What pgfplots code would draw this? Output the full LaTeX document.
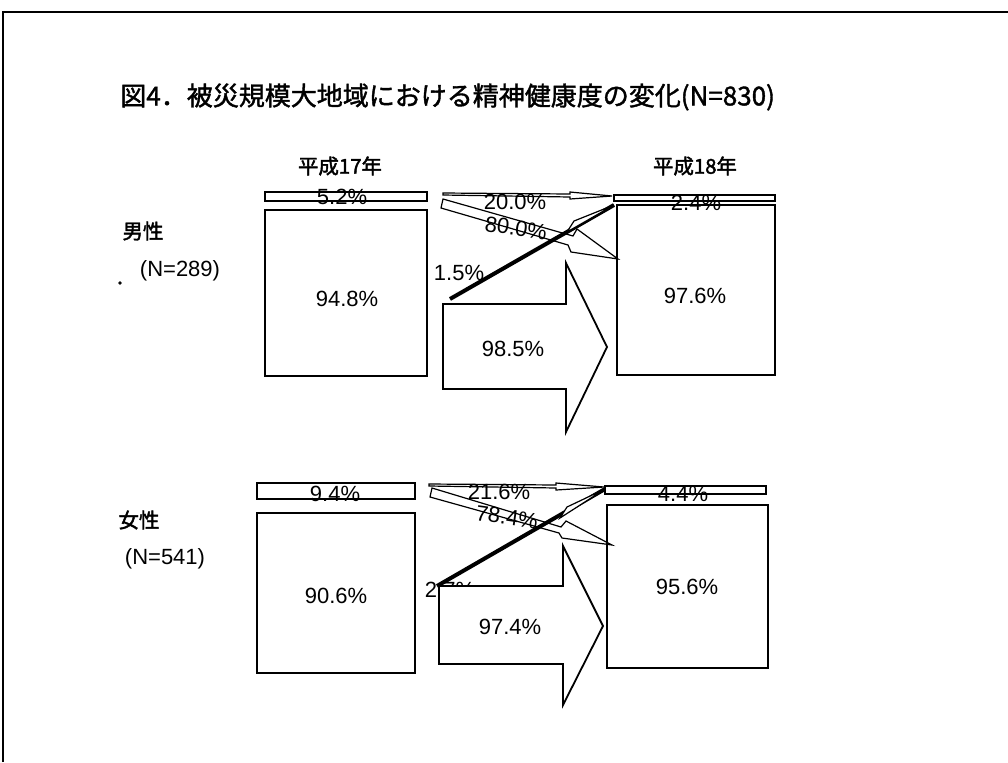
\documentclass[border=0pt]{standalone}
\usepackage{fontspec}
\setmainfont{Liberation Sans}
\newfontfamily\cjk{Noto Sans CJK JP}
\newfontfamily\cjkm[FakeBold=2]{Noto Sans CJK JP}
\newfontfamily\cjkt[FakeBold=1.5]{Noto Sans CJK JP}
\usepackage{pgfplots}
\pgfplotsset{compat=1.18}
\newcommand\pct{\fontsize{11}{13}\selectfont}
\begin{document}
\begin{tikzpicture}
\useasboundingbox (0,0) rectangle (504pt,381pt);
\begin{axis}[scale only axis, width=504pt, height=381pt,
  xmin=0, xmax=1008, ymin=0, ymax=762, y dir=reverse,
  hide axis, clip=false,
  box/.style={draw=black, line width=0.9pt, fill=white},
  thin/.style={draw=black, line width=0.6pt, fill=white}]
% frame
\addplot[black, line width=0.9pt] coordinates {(3,762) (3,12) (1008,12)};
% title
\node[font=\cjkt\fontsize{13}{15}\selectfont, anchor=west, inner sep=0pt] at (axis cs:120,97) {図4．被災規模大地域における精神健康度の変化(N=830)};
\node[font=\cjkm\fontsize{10.2}{12}\selectfont] at (axis cs:340,166) {平成17年};
\node[font=\cjkm\fontsize{10.2}{12}\selectfont] at (axis cs:695,166) {平成18年};
% group labels
\node[font=\cjkm\fontsize{10.2}{12}\selectfont] at (axis cs:143,231) {男性};
\node[font=\pct] at (axis cs:180,271) {(N=289)};
\node[font=\cjkm\fontsize{10.2}{12}\selectfont] at (axis cs:139,520) {女性};
\node[font=\pct] at (axis cs:165,559) {(N=541)};
\addplot[only marks, mark=*, mark size=0.6pt, black] coordinates {(120,283)};
% ===== men =====
\addplot[box] coordinates {(265,192) (427,192) (427,201) (265,201)} -- cycle;
\addplot[box] coordinates {(265,210) (427,210) (427,376) (265,376)} -- cycle;
\addplot[box] coordinates {(614,195) (775,195) (775,201) (614,201)} -- cycle;
\addplot[box] coordinates {(617,205) (775,205) (775,375) (617,375)} -- cycle;
\node[font=\pct] at (axis cs:342,197) {5.2\%};
\node[font=\pct] at (axis cs:696,203) {2.4\%};
\node[font=\pct] at (axis cs:347,299) {94.8\%};
\node[font=\pct] at (axis cs:695,296) {97.6\%};
% thin arrow 20.0%
\addplot[thin] coordinates {(443,193) (570,194) (570,192) (612,196) (570,199) (570,197) (443,195)} -- cycle;
\node[font=\pct] at (axis cs:515,202) {20.0\%};
% diagonal arrow 80.0%
\addplot[thin, fill=none] coordinates {(443,199) (573,236) (577,229) (618,259) (571,252) (568,245) (441,208)} -- cycle;
\node[font=\pct, rotate=-8] at (axis cs:516,228) {80.0\%};
% thick line 1.5%
\addplot[black, line width=2pt] coordinates {(450,299) (614,205)};
\addplot[thin] coordinates {(567,232) (574,221) (614,205)} -- cycle;
\node[font=\pct] at (axis cs:459,273) {1.5\%};
% big arrow 98.5%
\addplot[box] coordinates {(443,304) (566,304) (566,263) (607,347) (566,432) (566,389) (443,389)} -- cycle;
\node[font=\pct] at (axis cs:513,349) {98.5\%};
% ===== women =====
\addplot[box] coordinates {(257,483) (415,483) (415,499) (257,499)} -- cycle;
\addplot[box] coordinates {(257,513) (415,513) (415,673) (257,673)} -- cycle;
\addplot[box] coordinates {(605,486) (766,486) (766,494) (605,494)} -- cycle;
\addplot[box] coordinates {(607,505) (768,505) (768,668) (607,668)} -- cycle;
\node[font=\pct] at (axis cs:335,494) {9.4\%};
\node[font=\pct] at (axis cs:683,494) {4.4\%};
\node[font=\pct] at (axis cs:336,596) {90.6\%};
\node[font=\pct] at (axis cs:687,587) {95.6\%};
% thin arrow 21.6%
\addplot[thin] coordinates {(429,484) (556,485) (556,483) (604,487) (556,490) (556,488) (429,486)} -- cycle;
\node[font=\pct] at (axis cs:499,492) {21.6\%};
% diagonal arrow 78.4%
\addplot[thin, fill=none] coordinates {(432,488) (561,527) (566,521) (612,545) (562,538) (559,533) (430,497)} -- cycle;
\node[font=\pct, rotate=-8] at (axis cs:507,517) {78.4\%};
% thick line 2.7%
\addplot[black, line width=2pt] coordinates {(437,586) (605,489)};
\addplot[thin] coordinates {(560,518) (567,507) (605,489)} -- cycle;
\node[font=\pct] at (axis cs:450,590) {2.7\%};
% big arrow 97.4%
\addplot[box] coordinates {(439,586) (563,586) (563,546) (603,626) (563,705) (563,664) (439,664)} -- cycle;
\node[font=\pct] at (axis cs:510,627) {97.4\%};
\end{axis}
\end{tikzpicture}
\end{document}
